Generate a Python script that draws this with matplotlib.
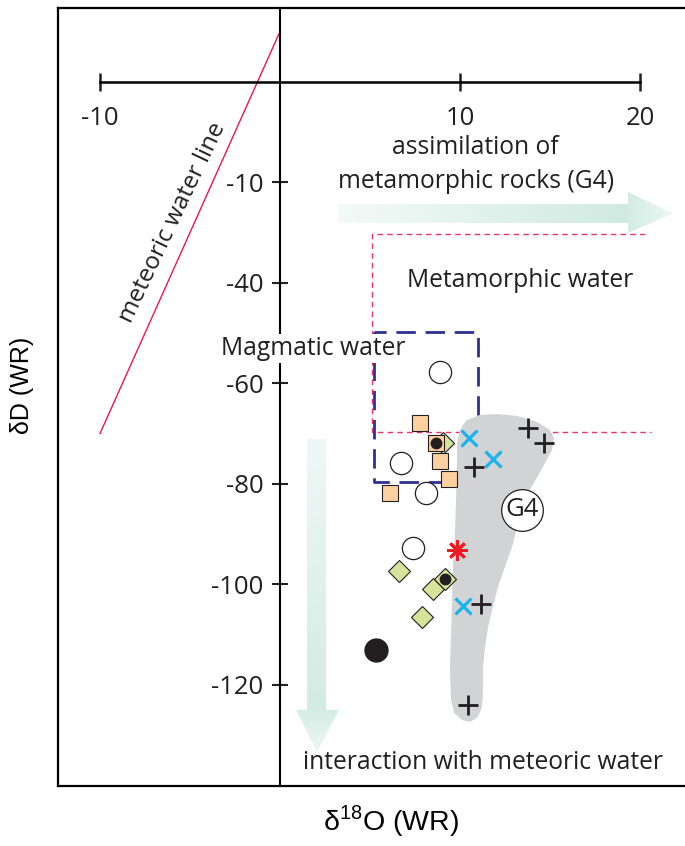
import numpy as np
import matplotlib
matplotlib.use("Agg")
import matplotlib.pyplot as plt
from matplotlib.patches import Polygon
from matplotlib.colors import to_rgb

plt.rcParams['font.family'] = ['Open Sans', 'DejaVu Sans']
plt.rcParams['mathtext.fontset'] = 'custom'
plt.rcParams['mathtext.rm'] = 'Liberation Sans'

# ---- axis ticks -------------------------------------------------------
x_ticks = [-10, 10, 20]
x_tick_labels = ["-10", "10", "20"]
y_ticks = [-20, -40, -60, -80, -100, -120]
y_tick_labels = ["-10", "-40", "-60", "-80", "-100", "-120"]

# ---- meteoric water line (dD = 8 d18O + 10) ---------------------------
mwl_o18 = [-10, 0]
mwl_dD = [-70, 10]

# ---- samples ----------------------------------------------------------
open_circle_o18 = [8.9, 6.7, 8.1, 7.4]
open_circle_dD = [-57.8, -75.9, -81.8, -92.8]

square_o18 = [7.8, 8.67, 8.9, 9.4, 6.1]
square_dD = [-67.9, -71.9, -75.5, -79.0, -81.8]

diamond_o18 = [9.06, 6.6, 8.5, 7.9, 9.17]
diamond_dD = [-71.9, -97.3, -100.9, -106.5, -98.9]

dot_o18 = [8.67, 9.17]
dot_dD = [-71.9, -98.9]

solid_circle_o18 = [5.33]
solid_circle_dD = [-113.1]

star_o18 = [9.83]
star_dD = [-93.2]

cross_o18 = [10.5, 11.83, 10.17]
cross_dD = [-70.9, -75.1, -104.3]

plus_o18 = [13.78, 14.67, 10.78, 11.17, 10.44]
plus_dD = [-68.9, -71.9, -76.6, -103.9, -124.0]

# ---- G4 field outline -------------------------------------------------
g4_o18 = [10.39, 11.11, 12.06, 13.17, 14.28, 15.0, 15.22, 15.11, 14.72, 14.28,
          13.78, 13.44, 13.17, 12.89, 12.5, 12.11, 11.83, 11.56, 11.39, 11.28,
          11.28, 11.22, 11.0, 10.56, 10.11, 9.67, 9.5, 9.44, 9.5, 9.56,
          9.61, 9.72, 9.78, 9.83, 9.83, 10.0, 10.28]
g4_dD = [-67.3, -66.3, -66.1, -66.5, -67.7, -69.3, -70.9, -73.3, -75.9, -78.7,
         -81.8, -85.2, -88.6, -92.6, -96.5, -100.5, -104.5, -108.5, -112.5, -116.5,
         -121.6, -124.4, -126.4, -127.4, -127.0, -125.6, -123.0, -116.5, -109.7, -103.1,
         -96.5, -89.8, -83.2, -76.6, -71.9, -69.3, -67.7]
g4_label_pos = (13.44, -85.2)

# ---- fields -----------------------------------------------------------
magmatic_box = (5.25, 11.0, -79.7, -49.8)      # o18 min/max, dD min/max
metamorphic_o18 = [20.3, 5.1, 5.1, 20.6]
metamorphic_dD = [-30.3, -30.3, -69.6, -69.6]

XLIM = (-12.333, 22.5)
YLIM = (-140.14, 14.69)

fig = plt.figure(figsize=(6.85, 8.46), dpi=100)
pos = [58 / 685, 60 / 846, 627 / 685, 778 / 846]

# outer frame
frame = fig.add_axes(pos, zorder=0)
frame.set_xlim(XLIM)
frame.set_ylim(YLIM)
frame.set_xticks([])
frame.set_yticks([])
frame.spines['right'].set_visible(False)
for s in ('left', 'top', 'bottom'):
    frame.spines[s].set_linewidth(1.6)
frame.patch.set_visible(False)
frame.set_xlabel(r'δ$^{\mathrm{18}}$O (WR)', fontsize=20.5, family='Liberation Sans', va='center')
frame.set_ylabel('δD (WR)', fontsize=18, family='Liberation Sans', va='center', ha='center')
frame.xaxis.set_label_coords((391 - 58) / 627, (786 - 821) / 778)
frame.yaxis.set_label_coords((22 - 58) / 627, (786 - 385) / 778)

# main cross-axes plot
ax = fig.add_axes(pos, zorder=1)
ax.patch.set_visible(False)
ax.set_xlim(XLIM)
ax.set_ylim(YLIM)
ax.spines['left'].set_position(('data', 0))
ax.spines['bottom'].set_position(('data', 0))
ax.spines['top'].set_visible(False)
ax.spines['right'].set_visible(False)
ax.spines['left'].set_linewidth(1.5)
ax.spines['bottom'].set_linewidth(1.8)
ax.spines['bottom'].set_bounds(min(x_ticks), max(x_ticks))
ax.set_xticks(x_ticks, x_tick_labels)
ax.set_yticks(y_ticks, y_tick_labels)
ax.tick_params(axis='x', direction='inout', length=13, width=1.8, pad=11, labelsize=18.5, colors='#231f20')
ax.tick_params(axis='y', direction='inout', length=12, width=1.5, pad=6, labelsize=18.5, colors='#231f20')


def gradient_fill(verts, c_start, c_end, vertical):
    """Fill a polygon with a linear colour gradient."""
    verts = np.asarray(verts)
    x0, x1 = verts[:, 0].min(), verts[:, 0].max()
    y0, y1 = verts[:, 1].min(), verts[:, 1].max()
    t = np.linspace(0, 1, 256)
    a, b = np.array(to_rgb(c_start)), np.array(to_rgb(c_end))
    cols = a[None, :] * (1 - t[:, None]) + b[None, :] * t[:, None]
    if vertical:
        img = cols[::-1][:, None, :]   # top row = start colour, origin lower
    else:
        img = cols[None, :, :]
    poly = Polygon(verts, closed=True, facecolor='none', edgecolor='none')
    ax.add_patch(poly)
    im = ax.imshow(img, extent=[x0, x1, y0, y1], origin='lower', aspect='auto',
                   interpolation='bilinear', zorder=0.8)
    im.set_clip_path(poly)


# horizontal arrow: assimilation of metamorphic rocks
hb = [(3.22, -24.3), (19.33, -24.3), (19.33, -28.1), (3.22, -28.1)]
hh = [(19.33, -21.9), (21.83, -26.2), (19.33, -30.1)]
gradient_fill(hb, '#f3faf8', '#d0eae1', vertical=False)
gradient_fill(hh, '#d3ece4', '#eef8f5', vertical=False)

# vertical arrow: interaction with meteoric water
vb = [(1.5, -71.1), (2.56, -71.1), (2.56, -125.0), (1.5, -125.0)]
vh = [(0.89, -125.0), (3.28, -125.0), (2.06, -133.4)]
gradient_fill(vb, '#eff8f6', '#d3ebe3', vertical=True)
gradient_fill(vh, '#d5ede5', '#edf7f4', vertical=True)

# metamorphic water field (pink dashed)
ax.plot(metamorphic_o18, metamorphic_dD, color='#e8336d', lw=1.0,
        dashes=(4, 3), zorder=0.5)

# magmatic water box (blue dashed)
bx0, bx1, by0, by1 = magmatic_box
ax.plot([bx0, bx0, bx1, bx1, bx0], [by1, by0, by0, by1, by1], color='#2e3192',
        lw=2.0, dashes=(7, 3.5), zorder=0.6)

# meteoric water line
ax.plot(mwl_o18, mwl_dD, color='#e8174f', lw=1.0, zorder=2)

# G4 field
ax.add_patch(Polygon(np.column_stack([g4_o18, g4_dD]), closed=True,
                     facecolor='#d1d3d4', edgecolor='none', zorder=1))

# samples
ax.plot(diamond_o18, diamond_dD, ls='none', marker='D', ms=11.5, mfc='#d6e39b',
        mec='#231f20', mew=0.8, zorder=3)
ax.plot(square_o18, square_dD, ls='none', marker='s', ms=12.2, mfc='#fdd09f',
        mec='#231f20', mew=0.8, zorder=4)
ax.plot(open_circle_o18, open_circle_dD, ls='none', marker='o', ms=16, mfc='white',
        mec='#231f20', mew=0.9, zorder=4)
ax.plot(dot_o18, dot_dD, ls='none', marker='o', ms=7.5, mfc='#231f20',
        mec='#231f20', zorder=5)
ax.plot(solid_circle_o18, solid_circle_dD, ls='none', marker='o', ms=16.5,
        mfc='#231f20', mec='#231f20', zorder=4)
ax.plot(star_o18, star_dD, ls='none', marker=(8, 2, 0), ms=14.5, mec='#ed1c24',
        mew=2.0, zorder=4)
ax.plot(cross_o18, cross_dD, ls='none', marker='x', ms=11, mec='#1cb3ec',
        mew=2.3, zorder=4)
ax.plot(plus_o18, plus_dD, ls='none', marker='+', ms=14.5, mec='#231f20',
        mew=2.0, zorder=4)

# G4 label
ax.plot(*g4_label_pos, marker='o', ms=30, mfc='white', mec='#231f20', mew=0.9, zorder=5)
ax.text(*g4_label_pos, 'G4', fontsize=18.5, ha='center', va='center', color='#231f20', zorder=6)

# annotations
txt = dict(color='#231f20', ha='center', va='center')
ax.text(-5.94, -28.1, 'meteoric water line', fontsize=17.5, rotation=64.5,
        rotation_mode='anchor', zorder=6, **txt)
ax.text(10.83, -13.0, 'assimilation of', fontsize=17.7, zorder=6, **txt)
ax.text(10.9, -19.9, 'metamorphic rocks (G4)', fontsize=17.7, zorder=6, **txt)
ax.text(13.33, -39.6, 'Metamorphic water', fontsize=17.7, zorder=6, **txt)
ax.text(1.83, -53.0, 'Magmatic water', fontsize=17.7, zorder=6,
        bbox=dict(facecolor='white', edgecolor='none', pad=1.5), **txt)
ax.text(11.28, -135.4, 'interaction with meteoric water', fontsize=17.7, zorder=6, **txt)

ax.set_xlim(XLIM)
ax.set_ylim(YLIM)

fig.savefig('out.png', dpi=100)
